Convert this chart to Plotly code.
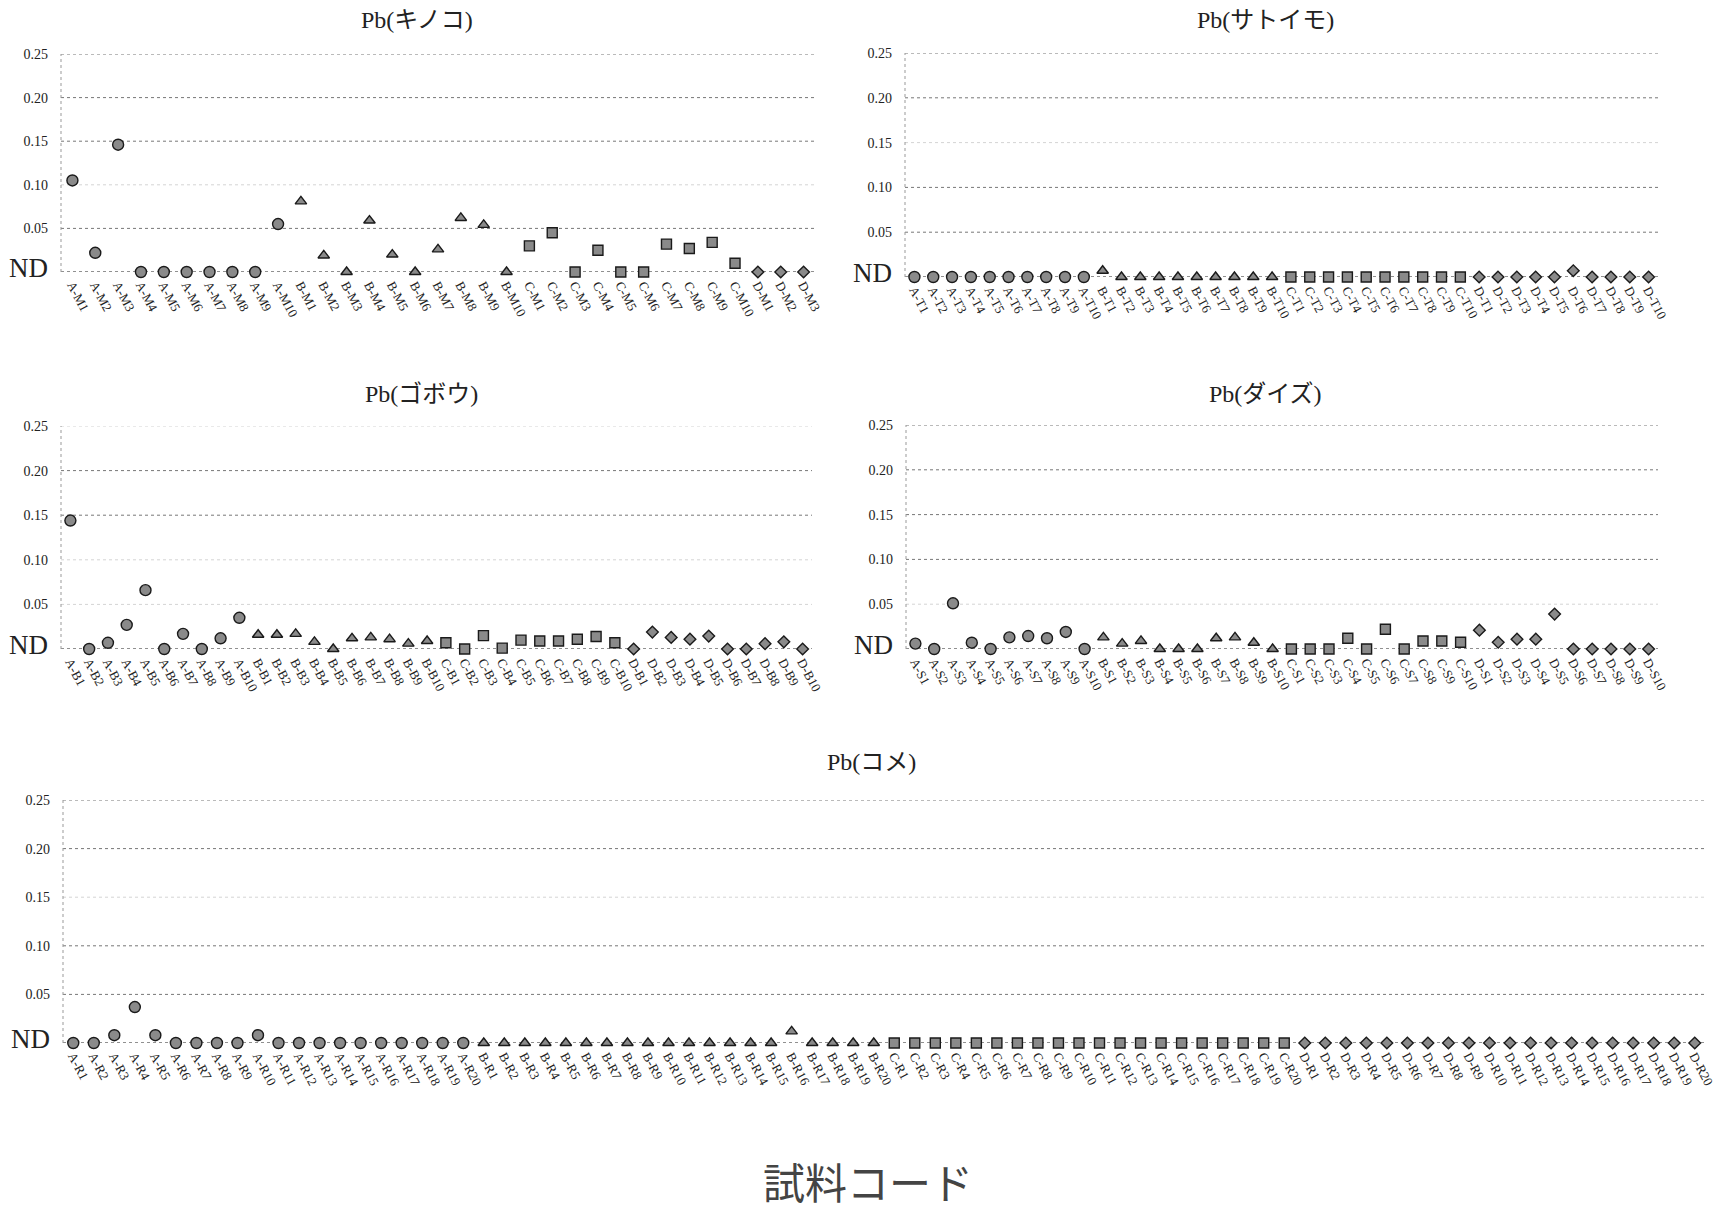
import plotly.graph_objects as go

W, H = 1729, 1210

def labels(prefix, code, n):
    return [f"{prefix}-{code}{i}" for i in range(1, n + 1)]

# ---------------- data (mg/kg, 0 = ND) ----------------
kinoko_A = [0.105, 0.022, 0.146, 0, 0, 0, 0, 0, 0, 0.055]
kinoko_B = [0.081, 0.019, 0, 0.059, 0.020, 0, 0.026, 0.062, 0.054, 0]
kinoko_C = [0.030, 0.045, 0, 0.025, 0, 0, 0.032, 0.027, 0.034, 0.010]
kinoko_D = [0, 0, 0]

satoimo_A = [0, 0, 0, 0, 0, 0, 0, 0, 0, 0]
satoimo_B = [0.007, 0, 0, 0, 0, 0, 0, 0, 0, 0]
satoimo_C = [0, 0, 0, 0, 0, 0, 0, 0, 0, 0]
satoimo_D = [0, 0, 0, 0, 0, 0.007, 0, 0, 0, 0]

gobou_A = [0.144, 0, 0.007, 0.027, 0.066, 0, 0.017, 0, 0.012, 0.035]
gobou_B = [0.016, 0.016, 0.017, 0.008, 0, 0.012, 0.013, 0.011, 0.006, 0.009]
gobou_C = [0.007, 0, 0.015, 0.001, 0.010, 0.009, 0.009, 0.011, 0.014, 0.007]
gobou_D = [0, 0.019, 0.013, 0.011, 0.0145, 0, 0, 0.006, 0.008, 0]

daizu_A = [0.006, 0, 0.051, 0.007, 0, 0.013, 0.0145, 0.012, 0.019, 0]
daizu_B = [0.013, 0.006, 0.009, 0, 0, 0, 0.012, 0.013, 0.007, 0]
daizu_C = [0, 0, 0, 0.012, 0, 0.022, 0, 0.009, 0.009, 0.0075]
daizu_D = [0.021, 0.0075, 0.011, 0.011, 0.039, 0, 0, 0, 0, 0]

kome_A = [0, 0, 0.008, 0.037, 0.008, 0, 0, 0, 0, 0.008,
          0, 0, 0, 0, 0, 0, 0, 0, 0, 0]
kome_B = [0, 0, 0, 0, 0, 0, 0, 0, 0, 0,
          0, 0, 0, 0, 0, 0.012, 0, 0, 0, 0]
kome_C = [0] * 20
kome_D = [0] * 20

y_tickvals = [0, 0.05, 0.10, 0.15, 0.20, 0.25]
y_ticktext = ["<span style='font-size:27px'>ND</span>", "0.05", "0.10", "0.15", "0.20", "0.25"]

panels = [
    dict(title="Pb(キノコ)", code="M", groups=[kinoko_A, kinoko_B, kinoko_C, kinoko_D]),
    dict(title="Pb(サトイモ)", code="T", groups=[satoimo_A, satoimo_B, satoimo_C, satoimo_D]),
    dict(title="Pb(ゴボウ)", code="B", groups=[gobou_A, gobou_B, gobou_C, gobou_D]),
    dict(title="Pb(ダイズ)", code="S", groups=[daizu_A, daizu_B, daizu_C, daizu_D]),
    dict(title="Pb(コメ)", code="R", groups=[kome_A, kome_B, kome_C, kome_D]),
]
group_names = ["A", "B", "C", "D"]

# ---------------- styling / layout (pixels) ----------------
boxes = [  # x0, x1, y_top(0.25), y_bottom(ND)
    (61, 815, 54, 272),
    (905, 1658, 53, 277),
    (61, 812, 426, 649),
    (906, 1658, 425, 649),
    (63, 1705, 800, 1043),
]
title_pos = [(417, 20), (1265, 20), (421, 394), (1265, 394), (871, 762)]
faint = [[0.10], [0.15], [0.25, 0.10, 0.05], [0.05], [0.15]]
symbols = ["circle", "triangle-up", "square", "diamond"]
sizes = [11, 10, 10, 9]
SERIF = "Liberation Serif, Times New Roman, Noto Sans CJK JP, serif"

fig = go.Figure()
shapes = []
annotations = []

for k, (p, box) in enumerate(zip(panels, boxes)):
    n = k + 1
    xa = "x" if n == 1 else f"x{n}"
    ya = "y" if n == 1 else f"y{n}"
    cats = []
    for g, vals in zip(group_names, p["groups"]):
        cats += labels(g, p["code"], len(vals))
    for gi, (g, vals) in enumerate(zip(group_names, p["groups"])):
        fig.add_trace(go.Scatter(
            x=labels(g, p["code"], len(vals)), y=vals,
            mode="markers", xaxis=xa, yaxis=ya, cliponaxis=False, showlegend=False,
            marker=dict(symbol=symbols[gi], size=sizes[gi], color="#8a8a8a",
                        line=dict(color="#1a1a1a", width=1.4)),
        ))
    x0, x1, yt, yb = box
    fig.layout[f"xaxis{'' if n == 1 else n}"] = dict(
        domain=[x0 / W, x1 / W], anchor=ya, type="category",
        categoryorder="array", categoryarray=cats,
        range=[-0.5, len(cats) - 0.5], showgrid=False, showline=False,
        zeroline=False, ticks="", tickangle=62, automargin=False,
        ticklabelstandoff=2,
        tickfont=dict(family=SERIF, size=13, color="#222"),
    )
    fig.layout[f"yaxis{'' if n == 1 else n}"] = dict(
        domain=[1 - yb / H, 1 - yt / H], anchor=xa, range=[0, 0.25],
        tickvals=y_tickvals, ticktext=y_ticktext, showgrid=False,
        zeroline=False, showline=False, ticks="", automargin=False,
        ticklabelstandoff=12,
        tickfont=dict(family=SERIF, size=14, color="#222"),
    )
    xd = f"{xa} domain"
    for v in y_tickvals:
        if v == 0:
            col, wd = "#222", 1.2
        elif v in faint[k]:
            col, wd = "#d4d4d4", 1
        else:
            col, wd = "#777", 1
        shapes.append(dict(type="line", xref=xd, yref=ya, x0=0, x1=1, y0=v, y1=v,
                           line=dict(color=col, width=wd, dash="dot"), layer="below"))
    shapes.append(dict(type="line", xref=xd, yref=ya, x0=0, x1=0, y0=0, y1=0.25,
                       line=dict(color="#999", width=1, dash="dot"), layer="below"))
    tx, ty = title_pos[k]
    annotations.append(dict(text=p["title"], x=tx / W, y=1 - ty / H, xref="paper", yref="paper",
                            xanchor="center", yanchor="middle", showarrow=False,
                            font=dict(family=SERIF, size=24, color="#222")))

annotations.append(dict(text="試料コード", x=868 / W, y=1 - 1180 / H, xref="paper", yref="paper",
                        xanchor="center", yanchor="middle", showarrow=False,
                        font=dict(family="Noto Sans CJK JP", size=42, color="#444")))

fig.update_layout(width=W, height=H, margin=dict(l=0, r=0, t=0, b=0),
                  paper_bgcolor="white", plot_bgcolor="white",
                  shapes=shapes, annotations=annotations)

fig.write_html("out.html")
